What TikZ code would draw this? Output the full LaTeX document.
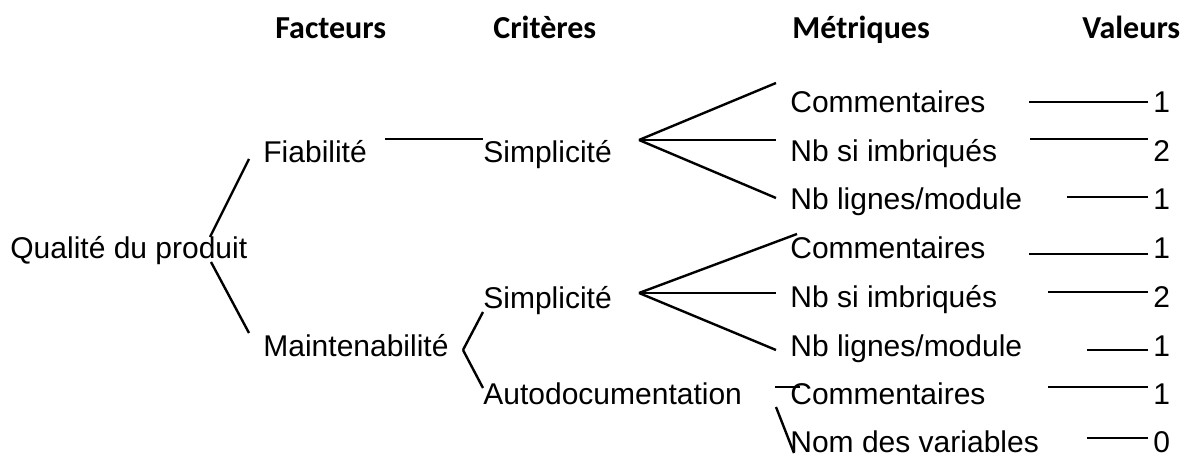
\documentclass[tikz,border=0pt]{standalone}
\usepackage{fontspec}
\setmainfont{Liberation Sans}
\newfontfamily\hdfont{Carlito}
\usetikzlibrary{positioning}

\tikzstyle{T} = [inner sep=0pt, anchor=base west,
			font=\fontsize{15}{18}\selectfont]
\tikzstyle{H} = [inner sep=0pt, anchor=base west,
			font=\hdfont\bfseries\fontsize{16}{19}\selectfont]
\tikzstyle{L} = [draw, line width=1.2pt]

\begin{document}
\begin{tikzpicture}[x=0.5pt, y=-0.5pt]

\useasboundingbox (0,0) rectangle (1191,458);

% column headers
\node [H] at (275,39)
(hfac)
	{Facteurs};

\node [H] at (493,39)
(hcri)
	{Critères};

\node [H] at (792,39)
(hmet)
	{Métriques};

\node [H] at (1082,39)
(hval)
	{Valeurs};

% tree
\node [T] at (10,259)
(qual)
	{Qualité du produit};

\node [T] at (263,163)
(fia)
	{Fiabilité};

\node [T] at (263,357)
(main)
	{Maintenabilité};

\node [T] at (483,163)
(simA)
	{Simplicité};

\node [T] at (483,309)
(simB)
	{Simplicité};

\node [T] at (483,405)
(autod)
	{Autodocumentation};

% metrics
\node [T] at (790,113)
(mA)
	{Commentaires};

\node [T] at (790,162)
(mB)
	{Nb si imbriqués};

\node [T] at (790,210)
(mC)
	{Nb lignes/module};

\node [T] at (790,259)
(mD)
	{Commentaires};

\node [T] at (790,308)
(mE)
	{Nb si imbriqués};

\node [T] at (790,357)
(mF)
	{Nb lignes/module};

\node [T] at (790,405)
(mG)
	{Commentaires};

\node [T] at (790,453)
(mH)
	{Nom des variables};

% values
\node [T] at (1153,113)
(vA)
	{1};

\node [T] at (1153,162)
(vB)
	{2};

\node [T] at (1153,210)
(vC)
	{1};

\node [T] at (1153,259)
(vD)
	{1};

\node [T] at (1153,308)
(vE)
	{2};

\node [T] at (1153,357)
(vF)
	{1};

\node [T] at (1153,405)
(vG)
	{1};

\node [T] at (1153,453)
(vH)
	{0};

\path[L] ([shift={(200,-22)}]qual.base west) -- ([shift={(-14,-4)}]fia.base west);

\path[L] ([shift={(201,3)}]qual.base west) -- ([shift={(-14,-24)}]main.base west);

\path[L] ([shift={(122,-24)}]fia.base west) -- ([shift={(0,-24)}]simA.base west);

\path[L] ([shift={(156,-23)}]simA.base west) -- ([shift={(-14,-30)}]mA.base west);

\path[L] ([shift={(156,-23)}]simA.base west) -- ([shift={(-14,-22)}]mB.base west);

\path[L] ([shift={(156,-23)}]simA.base west) -- ([shift={(-14,-12)}]mC.base west);

\path[L] ([shift={(200,-7)}]main.base west) -- ([shift={(0,3)}]simB.base west);

\path[L] ([shift={(200,-7)}]main.base west) -- ([shift={(0,-17)}]autod.base west);

\path[L] ([shift={(156,-16)}]simB.base west) -- ([shift={(7,-25)}]mD.base west);

\path[L] ([shift={(156,-16)}]simB.base west) -- ([shift={(-14,-15)}]mE.base west);

\path[L] ([shift={(156,-16)}]simB.base west) -- ([shift={(-14,-7)}]mF.base west);

\path[L] ([shift={(292,-18)}]autod.base west) -- ([shift={(10,-18)}]mG.base west);

\path[L] ([shift={(293,2)}]autod.base west) -- ([shift={(4,0)}]mH.base west);

\path[L] ([shift={(239,-11)}]mA.base west) -- ([shift={(-5,-11)}]vA.base west);

\path[L] ([shift={(240,-23)}]mB.base west) -- ([shift={(-5,-23)}]vB.base west);

\path[L] ([shift={(277,-13)}]mC.base west) -- ([shift={(-5,-13)}]vC.base west);

\path[L] ([shift={(239,-5)}]mD.base west) -- ([shift={(-5,-5)}]vD.base west);

\path[L] ([shift={(258,-16)}]mE.base west) -- ([shift={(-5,-16)}]vE.base west);

\path[L] ([shift={(297,-7)}]mF.base west) -- ([shift={(-5,-7)}]vF.base west);

\path[L] ([shift={(258,-18)}]mG.base west) -- ([shift={(-5,-18)}]vG.base west);

\path[L] ([shift={(297,-15)}]mH.base west) -- ([shift={(-5,-15)}]vH.base west);

\end{tikzpicture}
\end{document}
